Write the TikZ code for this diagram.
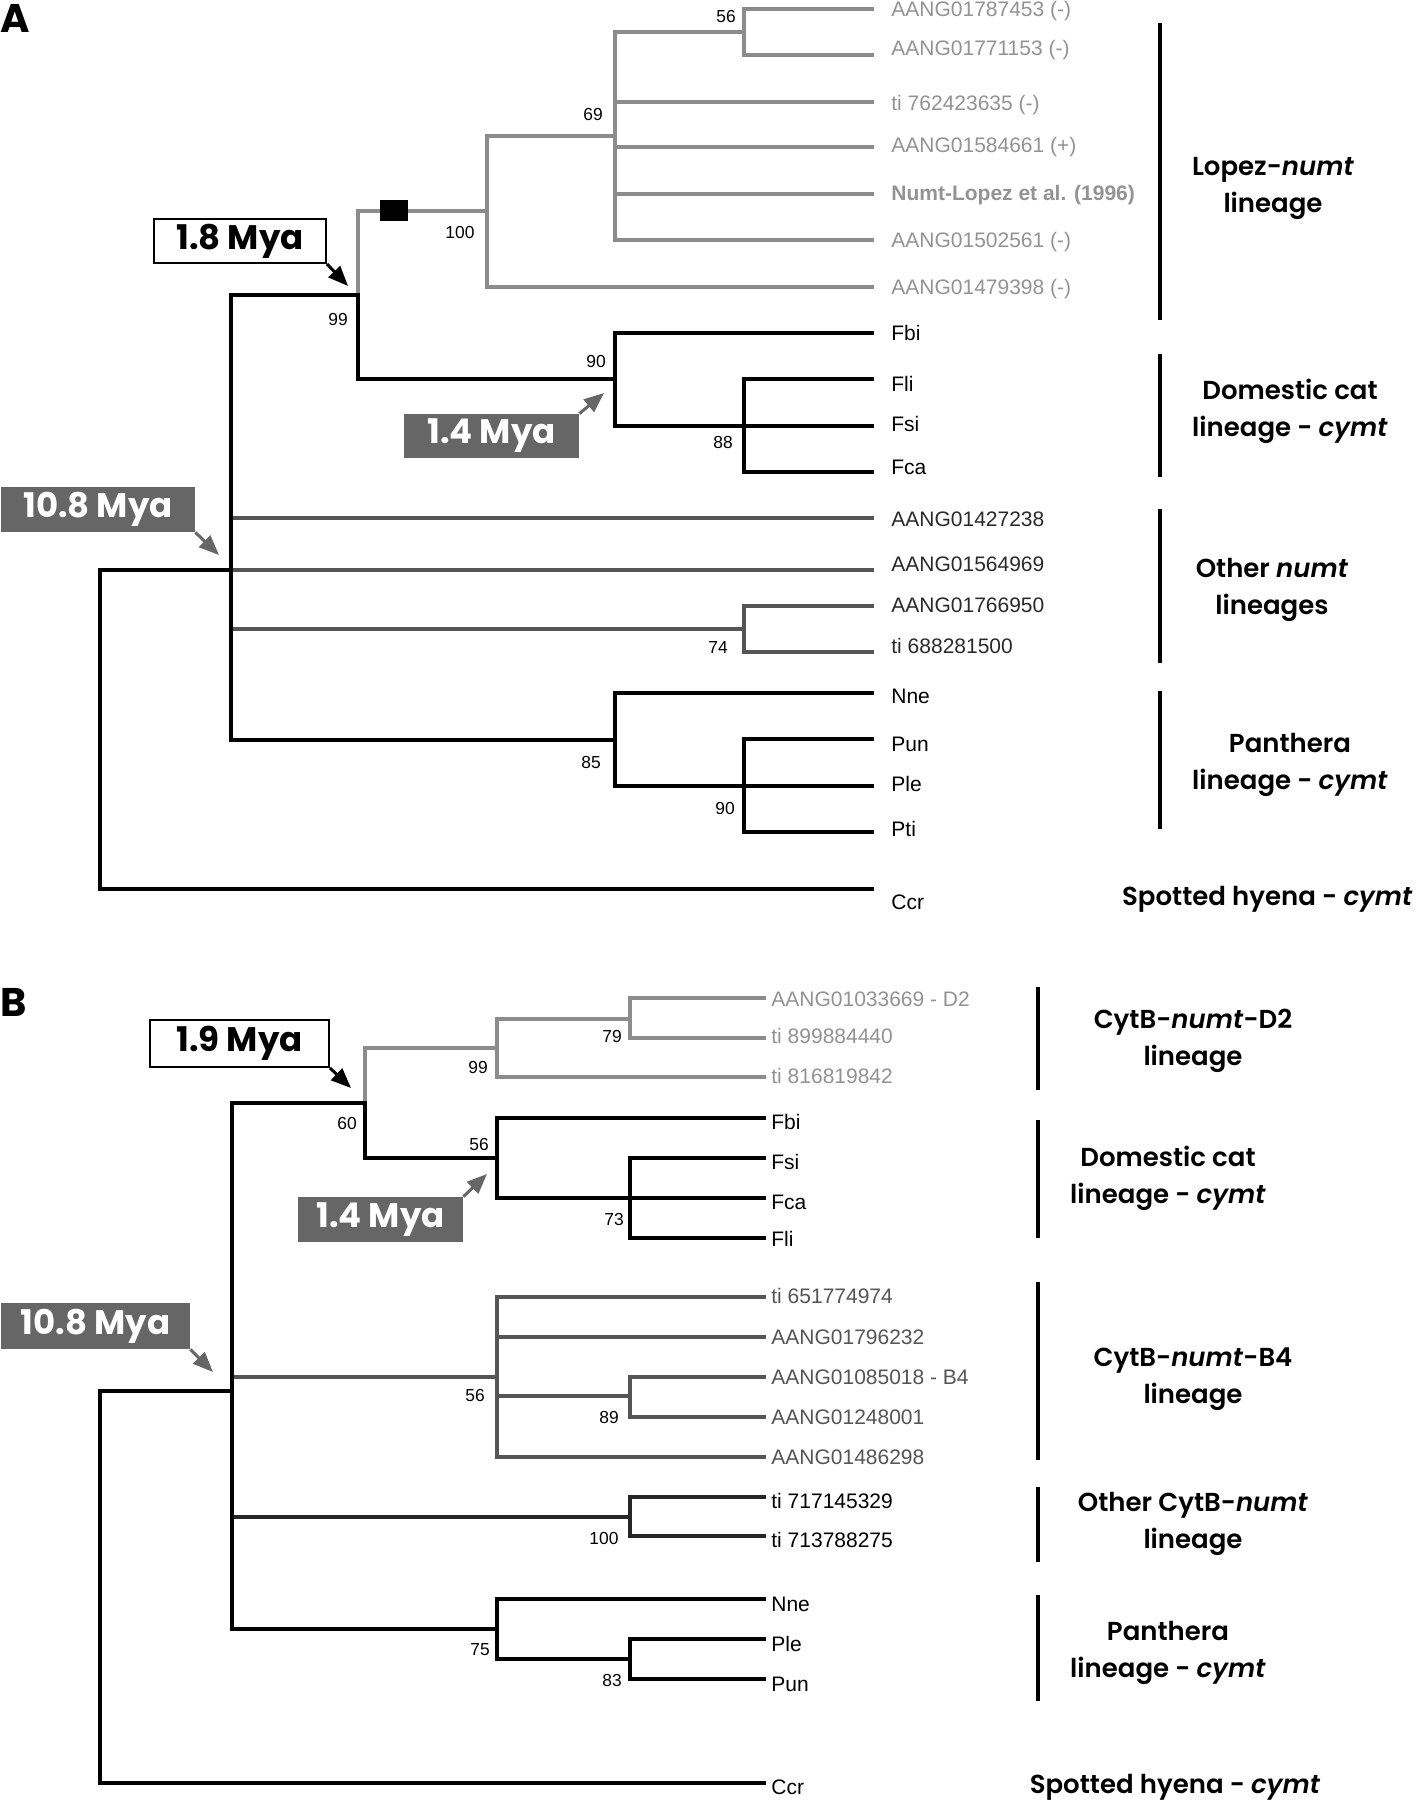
\documentclass[tikz,border=0pt]{standalone}
\usepackage{fontspec}
\setmainfont{Liberation Sans}
\newfontfamily\gothic{Poppins}
\newfontfamily\gothicsb{Poppins}[UprightFont={* SemiBold},ItalicFont={* SemiBold Italic}]
\usetikzlibrary{arrows.meta}
\definecolor{lgray}{HTML}{8C8C8C}
\definecolor{dgray}{HTML}{555555}
\definecolor{ogray}{HTML}{262626}
\definecolor{boxgray}{HTML}{666666}
\definecolor{ltext}{HTML}{939393}
\definecolor{otext}{HTML}{2A2A2A}
\begin{document}
\begin{tikzpicture}[x=0.5pt,y=-0.5pt,
  tr/.style={line width=2pt,line cap=rect},
  bar/.style={line width=2pt},
  leaf/.style={anchor=base west,inner sep=0pt,font=\fontsize{10.5pt}{12pt}\selectfont},
  bs/.style={inner sep=0pt,font=\fontsize{8.7pt}{10pt}\selectfont},
  clade/.style={align=center,inner sep=0pt,font=\gothicsb\fontsize{13pt}{18.5pt}\selectfont},
  myafont/.style={font=\gothic\bfseries\fontsize{17pt}{17pt}\selectfont},
  myaw/.style={myafont,draw=black,line width=1pt,fill=white,inner sep=0pt},
  myag/.style={myafont,fill=boxgray,text=white,inner sep=0pt},
  arr/.style={line width=1.5pt,-{Triangle[length=10pt,width=8pt]}},
  panel/.style={anchor=base west,inner sep=0pt,font=\gothic\bfseries\fontsize{20pt}{20pt}\selectfont}
]
\fill[white] (0,0) rectangle (1416,1800);
\useasboundingbox (0,0) rectangle (1416,1800);

% ================= PANEL A =================
\node[panel] (pA) at (0,32) {A};
% internal nodes
\coordinate (rA) at (100,889);
\coordinate (nA108) at (231,570);
\coordinate (nA99) at (358,295);
\coordinate (nA100) at (487,211);
\coordinate (nA69) at (615,136);
\coordinate (nA56) at (744,32);
\coordinate (nA90) at (615,379);
\coordinate (nA88) at (744,426);
\coordinate (nA74) at (744,629);
\coordinate (nA85) at (615,740);
\coordinate (nAP90) at (744,786);
% leaf ends
\foreach \i/\y in {1/9,2/55,3/102,4/147,5/194,6/240,7/287,8/333,9/379,10/426,11/472,12/518,13/570,14/606,15/652,16/693,17/739,18/786,19/832,20/889}
  \coordinate (eA\i) at (872,\y);

\begin{scope}[tr,lgray]
  \draw (nA99) |- (nA100);
  \draw (nA100) |- (nA69);
  \draw (nA100) |- (eA7);
  \draw (nA69) |- (nA56);
  \draw (nA69) |- (eA3);
  \draw (nA69) |- (eA4);
  \draw (nA69) |- (eA5);
  \draw (nA69) |- (eA6);
  \draw (nA56) |- (eA1);
  \draw (nA56) |- (eA2);
\end{scope}
\begin{scope}[tr,dgray]
  \draw (nA108) |- (eA12);
  \draw (nA108) |- (eA13);
  \draw (nA108) |- (nA74);
  \draw (nA74) |- (eA14);
  \draw (nA74) |- (eA15);
\end{scope}
\begin{scope}[tr,black]
  \draw (rA) |- (nA108);
  \draw (rA) -- (eA20);
  \draw (nA108) |- (nA99);
  \draw (nA108) |- (nA85);
  \draw (nA99) |- (nA90);
  \draw (nA90) |- (eA8);
  \draw (nA90) |- (nA88);
  \draw (nA88) |- (eA9);
  \draw (nA88) |- (eA10);
  \draw (nA88) |- (eA11);
  \draw (nA85) |- (eA16);
  \draw (nA85) |- (nAP90);
  \draw (nAP90) |- (eA17);
  \draw (nAP90) |- (eA18);
  \draw (nAP90) |- (eA19);
\end{scope}
\node[fill=black,inner sep=0pt,minimum width=14pt,minimum height=10.5pt] (sq) at (394,210.5) {};

% leaf labels
\node[leaf,text=ltext] (tA1) at (891,16) {AANG01787453 (-)};
\node[leaf,text=ltext] (tA2) at (891,55) {AANG01771153 (-)};
\node[leaf,text=ltext] (tA3) at (891,110) {ti 762423635 (-)};
\node[leaf,text=ltext] (tA4) at (891,152) {AANG01584661 (+)};
\node[leaf,text=ltext,font=\bfseries\fontsize{10.5pt}{12pt}\selectfont] (tA5) at (891,200) {Numt-Lopez et al. (1996)};
\node[leaf,text=ltext] (tA6) at (891,247) {AANG01502561 (-)};
\node[leaf,text=ltext] (tA7) at (891,294) {AANG01479398 (-)};
\node[leaf] (tA8) at (891,340) {Fbi};
\node[leaf] (tA9) at (891,391) {Fli};
\node[leaf] (tA10) at (891,431) {Fsi};
\node[leaf] (tA11) at (891,474) {Fca};
\node[leaf,text=otext] (tA12) at (891,526) {AANG01427238};
\node[leaf,text=otext] (tA13) at (891,571) {AANG01564969};
\node[leaf,text=otext] (tA14) at (891,612) {AANG01766950};
\node[leaf,text=otext] (tA15) at (891,653) {ti 688281500};
\node[leaf] (tA16) at (891,703) {Nne};
\node[leaf] (tA17) at (891,751) {Pun};
\node[leaf] (tA18) at (891,791) {Ple};
\node[leaf] (tA19) at (891,836) {Pti};
\node[leaf] (tA20) at (891,909) {Ccr};

% bootstrap values
\node[bs] (bA56) at (726,17) {56};
\node[bs] (bA69) at (593,115) {69};
\node[bs] (bA100) at (460,233) {100};
\node[bs] (bA99) at (338,320) {99};
\node[bs] (bA90) at (596,362) {90};
\node[bs] (bA88) at (723,443) {88};
\node[bs] (bA74) at (718,648) {74};
\node[bs] (bA85) at (591,762) {85};
\node[bs] (bAP90) at (725,808) {90};

% clade bars and labels
\draw[bar] (1160,23) -- (1160,320);
\draw[bar] (1160,354) -- (1160,477);
\draw[bar] (1160,509) -- (1160,663);
\draw[bar] (1160,691) -- (1160,829);
\node[clade] (cA1) at (1273,188) {Lopez-\textit{numt}\\lineage};
\node[clade] (cA2) at (1290,411) {Domestic cat\\lineage - \textit{cymt}};
\node[clade] (cA3) at (1272,590) {Other \textit{numt}\\lineages};
\node[clade] (cA4) at (1290,765) {Panthera\\lineage - \textit{cymt}};
\node[clade,anchor=east] (cA5) at (1413,899) {Spotted hyena - \textit{cymt}};

% Mya boxes
\node[myaw,minimum width=86pt,minimum height=22pt] (mA18) at (240,241) {1.8 Mya};
\node[myag,minimum width=87.5pt,minimum height=22pt] (mA14) at (491.5,436) {1.4 Mya};
\node[myag,minimum width=97pt,minimum height=22.5pt] (mA108) at (98,509.5) {10.8 Mya};
\coordinate (tA18) at (348,286);
\coordinate (tA14) at (604,393);
\coordinate (tA108) at (219,555);
\draw[arr,black] (mA18.south east) -- (tA18);
\draw[arr,boxgray] (mA14.north east) -- (tA14);
\draw[arr,boxgray] (mA108.south east) -- (tA108);

% ================= PANEL B =================
\node[panel] (pB) at (0,1016) {B};
\coordinate (rB) at (100,1783);
\coordinate (nB108) at (232,1391);
\coordinate (nB60) at (365,1103);
\coordinate (nB99) at (497,1048);
\coordinate (nB79) at (630,1019);
\coordinate (nB56) at (497,1158);
\coordinate (nB73) at (630,1198);
\coordinate (nBB4) at (497,1377);
\coordinate (nB89) at (630,1396);
\coordinate (nB100) at (630,1517);
\coordinate (nB75) at (497,1629);
\coordinate (nB83) at (630,1659);
\foreach \i/\y in {1/998,2/1038,3/1077,4/1118,5/1158,6/1198,7/1238,8/1297,9/1337,10/1377,11/1417,12/1457,13/1497,14/1536,15/1599,16/1639,17/1679,18/1783}
  \coordinate (eB\i) at (764,\y);

\begin{scope}[tr,lgray]
  \draw (nB60) |- (nB99);
  \draw (nB99) |- (nB79);
  \draw (nB99) |- (eB3);
  \draw (nB79) |- (eB1);
  \draw (nB79) |- (eB2);
\end{scope}
\begin{scope}[tr,dgray]
  \draw (nB108) |- (nBB4);
  \draw (nBB4) |- (eB8);
  \draw (nBB4) |- (eB9);
  \draw (nBB4) |- (nB89);
  \draw (nBB4) |- (eB12);
  \draw (nB89) |- (eB10);
  \draw (nB89) |- (eB11);
\end{scope}
\begin{scope}[tr,ogray]
  \draw (nB108) |- (nB100);
  \draw (nB100) |- (eB13);
  \draw (nB100) |- (eB14);
\end{scope}
\begin{scope}[tr,black]
  \draw (rB) |- (nB108);
  \draw (rB) -- (eB18);
  \draw (nB108) |- (nB60);
  \draw (nB108) |- (nB75);
  \draw (nB60) |- (nB56);
  \draw (nB56) |- (eB4);
  \draw (nB56) |- (nB73);
  \draw (nB73) |- (eB5);
  \draw (nB73) |- (eB6);
  \draw (nB73) |- (eB7);
  \draw (nB75) |- (eB15);
  \draw (nB75) |- (nB83);
  \draw (nB83) |- (eB16);
  \draw (nB83) |- (eB17);
\end{scope}

\node[leaf,text=ltext] (tB1) at (771,1006) {AANG01033669 - D2};
\node[leaf,text=ltext] (tB2) at (771,1043) {ti 899884440};
\node[leaf,text=ltext] (tB3) at (771,1083) {ti 816819842};
\node[leaf] (tB4) at (771,1129) {Fbi};
\node[leaf] (tB5) at (771,1169) {Fsi};
\node[leaf] (tB6) at (771,1209) {Fca};
\node[leaf] (tB7) at (771,1246) {Fli};
\node[leaf,text=dgray] (tB8) at (771,1303) {ti 651774974};
\node[leaf,text=dgray] (tB9) at (771,1344) {AANG01796232};
\node[leaf,text=dgray] (tB10) at (771,1384) {AANG01085018 - B4};
\node[leaf,text=dgray] (tB11) at (771,1424) {AANG01248001};
\node[leaf,text=dgray] (tB12) at (771,1464) {AANG01486298};
\node[leaf] (tB13) at (771,1508) {ti 717145329};
\node[leaf] (tB14) at (771,1547) {ti 713788275};
\node[leaf] (tB15) at (771,1611) {Nne};
\node[leaf] (tB16) at (771,1651) {Ple};
\node[leaf] (tB17) at (771,1691) {Pun};
\node[leaf] (tB18) at (771,1794) {Ccr};

\node[bs] (bB79) at (612,1036) {79};
\node[bs] (bB99) at (478,1067) {99};
\node[bs] (bB60) at (347,1123) {60};
\node[bs] (bB56) at (479,1144) {56};
\node[bs] (bB73) at (614,1219) {73};
\node[bs] (bBB4) at (475,1395) {56};
\node[bs] (bB89) at (609,1417) {89};
\node[bs] (bB100) at (604,1538) {100};
\node[bs] (bB75) at (480,1650) {75};
\node[bs] (bB83) at (612,1680) {83};

\draw[bar] (1038,987) -- (1038,1090);
\draw[bar] (1038,1120) -- (1038,1238);
\draw[bar] (1038,1282) -- (1038,1460);
\draw[bar] (1038,1487) -- (1038,1562);
\draw[bar] (1038,1595) -- (1038,1701);
\node[clade] (cB1) at (1193,1041) {CytB-\textit{numt}-D2\\lineage};
\node[clade] (cB2) at (1168,1178) {Domestic cat\\lineage - \textit{cymt}};
\node[clade] (cB3) at (1193,1379) {CytB-\textit{numt}-B4\\lineage};
\node[clade] (cB4) at (1193,1524) {Other CytB-\textit{numt}\\lineage};
\node[clade] (cB5) at (1168,1653) {Panthera\\lineage - \textit{cymt}};
\node[clade] (cB6) at (1175,1787) {Spotted hyena - \textit{cymt}};

\node[myaw,minimum width=89.5pt,minimum height=23.5pt] (mB19) at (239.5,1043.5) {1.9 Mya};
\node[myag,minimum width=82.5pt,minimum height=22.5pt] (mB14) at (380.5,1219.5) {1.4 Mya};
\node[myag,minimum width=94.5pt,minimum height=23pt] (mB108) at (95.5,1326) {10.8 Mya};
\coordinate (tB19) at (351,1088);
\coordinate (tB14) at (487,1174);
\coordinate (tB108) at (213,1372);
\draw[arr,black] (mB19.south east) -- (tB19);
\draw[arr,boxgray] (mB14.north east) -- (tB14);
\draw[arr,boxgray] (mB108.south east) -- (tB108);
\end{tikzpicture}
\end{document}
